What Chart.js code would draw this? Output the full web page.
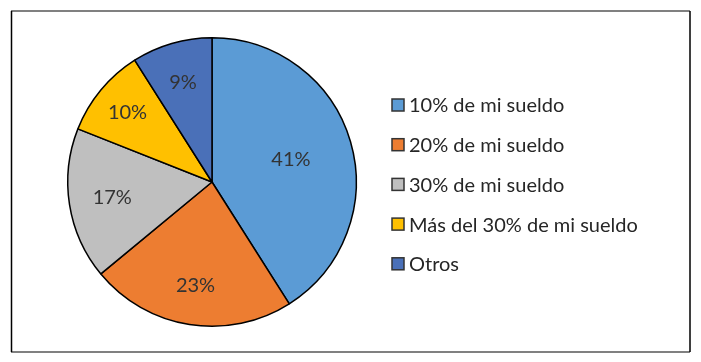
<!DOCTYPE html>
<html>
<head>
<meta charset="utf-8">
<script src="https://cdn.jsdelivr.net/npm/chart.js@4"></script>
<style>
  html, body { margin: 0; padding: 0; background: #fff; }
  #wrap { position: relative; width: 701px; height: 362px; }
</style>
</head>
<body>
<div id="wrap"><canvas id="pieChart" width="701" height="362"></canvas></div>
<script>
// categories and values
const categories = ['10% de mi sueldo', '20% de mi sueldo', '30% de mi sueldo', 'Más del 30% de mi sueldo', 'Otros'];
const shares = [41, 23, 17, 10, 9];
const sliceColors = ['#5B9BD5', '#ED7D31', '#BFBFBF', '#FFC000', '#4A70B8'];

const FONT = 'Lato, "Open Sans", sans-serif';

// frame round the whole chart
const framePlugin = {
  id: 'frame',
  beforeDraw(chart) {
    const ctx = chart.ctx;
    ctx.save();
    ctx.fillStyle = '#fff';
    ctx.fillRect(0, 0, chart.width, chart.height);
    ctx.lineWidth = 2;
    ctx.strokeStyle = '#808080';
    ctx.beginPath();
    ctx.moveTo(11, 11); ctx.lineTo(690, 11);
    ctx.moveTo(11, 352); ctx.lineTo(690, 352);
    ctx.stroke();
    ctx.lineWidth = 1.5;
    ctx.strokeStyle = '#000';
    ctx.beginPath();
    ctx.moveTo(11.5, 11); ctx.lineTo(11.5, 352);
    ctx.moveTo(690, 11); ctx.lineTo(690, 352);
    ctx.stroke();
    ctx.restore();
  }
};

// percent labels inside the slices
const labelPlugin = {
  id: 'sliceLabels',
  afterDatasetsDraw(chart, args, opts) {
    const ctx = chart.ctx;
    const meta = chart.getDatasetMeta(0);
    ctx.save();
    ctx.font = '20px ' + FONT;
    ctx.fillStyle = '#333';
    ctx.textAlign = 'center';
    ctx.textBaseline = 'middle';
    meta.data.forEach((arc, i) => {
      const p = arc.getProps(['x', 'y', 'startAngle', 'endAngle', 'outerRadius']);
      const mid = (p.startAngle + p.endAngle) / 2;
      const r = p.outerRadius * opts.radius[i];
      ctx.fillText(shares[i] + '%', p.x + Math.cos(mid) * r, p.y + Math.sin(mid) * r);
    });
    ctx.restore();
  }
};

// legend on the right
const legendPlugin = {
  id: 'sideLegend',
  afterDraw(chart, args, opts) {
    const ctx = chart.ctx;
    const colors = chart.data.datasets[0].backgroundColor;
    ctx.save();
    ctx.font = '20px ' + FONT;
    ctx.textBaseline = 'middle';
    chart.data.labels.forEach((label, i) => {
      const y = opts.top + i * opts.step;
      ctx.fillStyle = colors[i];
      ctx.fillRect(opts.left, y - 6, 12, 12);
      ctx.lineWidth = 1.5;
      ctx.strokeStyle = '#333';
      ctx.strokeRect(opts.left, y - 6, 12, 12);
      ctx.fillStyle = '#262626';
      ctx.fillText(label, opts.left + 17, y + 1);
    });
    ctx.restore();
  }
};

new Chart(document.getElementById('pieChart'), {
  type: 'pie',
  data: {
    labels: categories,
    datasets: [{
      data: shares,
      backgroundColor: sliceColors,
      borderColor: '#000',
      borderWidth: 1.5
    }]
  },
  options: {
    responsive: false,
    animation: false,
    layout: { padding: { left: 67, right: 344, top: 37, bottom: 35 } },
    plugins: {
      legend: { display: false },
      tooltip: { enabled: false },
      sliceLabels: { radius: [0.57, 0.73, 0.7, 0.76, 0.72] },
      sideLegend: { left: 392, top: 105, step: 39.7 }
    }
  },
  plugins: [framePlugin, labelPlugin, legendPlugin]
});
</script>
</body>
</html>
